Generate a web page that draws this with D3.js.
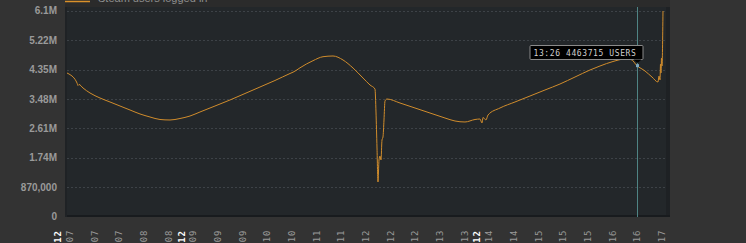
<!DOCTYPE html>
<html>
<head>
<meta charset="utf-8">
<script src="https://cdn.jsdelivr.net/npm/d3@7"></script>
<style>
  html, body { margin: 0; padding: 0; background: #333333; overflow: hidden; }
  svg { display: block; }
</style>
</head>
<body>
<script>
// x positions are in "tick steps" (one step = distance between two hour labels)
const times = [-0.122, -0.041, 0.284, 0.324, 0.365, 0.527, 0.811, 1.216, 1.622, 2.027, 2.433, 2.838,
  3.243, 3.649, 4.054, 4.459, 4.865, 5.270, 5.878, 6.486, 7.094, 7.702, 8.310, 8.919, 9.040, 9.162,
  9.324, 9.851, 10.257, 10.662, 11.068, 11.473, 11.878, 12.162, 12.364, 12.405, 12.446, 12.486, 12.527,
  12.567, 12.608, 12.648, 12.689, 12.729, 12.770, 12.851, 13.378, 13.986, 14.594, 15.202, 15.608,
  16.013, 16.419, 16.621, 16.702, 16.743, 16.864, 16.946, 17.432, 18.040, 18.648, 19.256, 19.864,
  20.473, 21.081, 21.486, 22.013, 22.500, 22.743, 22.986, 23.311, 23.594, 23.838, 23.878, 23.919,
  23.939, 23.959, 23.980, 24.000, 24.040];
const users = [4247000, 4217000, 3951000, 3877000, 3907000, 3803000, 3655000, 3507000, 3389000, 3270000,
  3152000, 3034000, 2945000, 2871000, 2856000, 2900000, 2974000, 3093000, 3270000, 3448000, 3640000,
  3832000, 4025000, 4232000, 4270000, 4320000, 4400000, 4611000, 4729000, 4750000, 4632000, 4395000,
  4099000, 3892000, 3773000, 3093000, 2027000, 1021000, 1672000, 1790000, 1672000, 2264000, 2353000,
  2856000, 3418000, 3477000, 3359000, 3211000, 3063000, 2915000, 2826000, 2797000, 2871000, 2885000,
  2767000, 2930000, 2856000, 3004000, 3211000, 3389000, 3566000, 3744000, 3921000, 4128000, 4336000,
  4454000, 4587000, 4661000, 4646000, 4463715, 4306000, 4128000, 3980000, 4158000, 4040000, 4513000,
  4247000, 4691000, 4454000, 6082000];

const yTicks = [0, 870000, 1740000, 2610000, 3480000, 4350000, 5220000, 6090000];
const yTickLabels = ["0", "870,000", "1.74M", "2.61M", "3.48M", "4.35M", "5.22M", "6.1M"];

const xTicks = d3.range(25);
const xTickLabels = ["07", "07", "07", "08", "08", "09", "09", "09", "10", "10", "11", "11", "12",
  "12", "12", "13", "13", "14", "14", "15", "15", "15", "16", "16", "17"];
const dayTicks = [-0.49, 4.54, 16.5];
const dayTickLabels = ["12", "12", "12"];

const hoverIndex = 69;
const hoverLabel = "13:26";
const seriesName = "Steam users logged in";

const W = 746, H = 243;
const pLeft = 65, pRight = 670, pTop = 7, pBottom = 217;

const svg = d3.select("body").append("svg").attr("width", W).attr("height", H);

const x = d3.scaleLinear().domain([-0.2027, 24.324]).range([pLeft, pRight]);
const y = d3.scaleLinear().domain([0, 6200000]).range([216.5, pTop]);

// legend strip (mostly scrolled off the top)
svg.append("rect").attr("x", pLeft).attr("y", 0).attr("width", pRight - pLeft).attr("height", pTop)
  .attr("fill", "#2b2b2b");
svg.append("line").attr("x1", pLeft).attr("x2", 90).attr("y1", 1.5).attr("y2", 1.5)
  .attr("stroke", "#d9902a").attr("stroke-width", 1.5);
svg.append("text").attr("x", 98).attr("y", 2).attr("fill", "#8f8f8f")
  .style("font", "11px 'Liberation Sans', Arial, sans-serif").text(seriesName);

// plot background + shading
svg.append("rect").attr("x", pLeft).attr("y", pTop).attr("width", pRight - pLeft).attr("height", pBottom - pTop)
  .attr("fill", "#23272a");
svg.append("rect").attr("x", pRight - 4).attr("y", pTop).attr("width", 4).attr("height", pBottom - pTop)
  .attr("fill", "#1e2124");
svg.append("rect").attr("x", pLeft).attr("y", pBottom - 2).attr("width", pRight - pLeft).attr("height", 2)
  .attr("fill", "#181b1e");
svg.append("rect").attr("x", pLeft).attr("y", pTop).attr("width", 2).attr("height", pBottom - pTop)
  .attr("fill", "#1f2225");

// gridlines
svg.append("g").selectAll("line").data(yTicks.slice(1)).join("line")
  .attr("x1", pLeft + 2).attr("x2", pRight - 4)
  .attr("y1", d => Math.round(y(d)) + 0.5).attr("y2", d => Math.round(y(d)) + 0.5)
  .attr("stroke", "#3d4247").attr("stroke-dasharray", "2,2");

// y axis labels
const yAxis = d3.axisLeft(y).tickValues(yTicks).tickSize(0).tickPadding(0)
  .tickFormat((d, i) => yTickLabels[i]);
const gy = svg.append("g").attr("transform", "translate(57,0)").call(yAxis);
gy.select(".domain").remove();
gy.selectAll("text").attr("fill", "#9a9a9a")
  .style("font", "bold 10px 'Liberation Sans', Arial, sans-serif");

// x axis labels (rotated)
const xl = svg.append("g");
xl.selectAll("text.h").data(xTicks).join("text").attr("class", "h")
  .attr("transform", d => `translate(${x(d) + 3},229.5) rotate(-90)`)
  .attr("text-anchor", "end").attr("fill", "#9a9a9a")
  .style("font", "9px 'DejaVu Sans Mono', monospace").style("letter-spacing", "1px")
  .text((d, i) => xTickLabels[i]);
xl.selectAll("text.d").data(dayTicks).join("text").attr("class", "d")
  .attr("transform", d => `translate(${x(d) + 3},230) rotate(-90)`)
  .attr("text-anchor", "end").attr("fill", "#ffffff")
  .style("font", "bold 9px 'DejaVu Sans Mono', monospace").style("letter-spacing", "1px")
  .text((d, i) => dayTickLabels[i]);

// series line
svg.append("clipPath").attr("id", "clip").append("rect")
  .attr("x", pLeft).attr("y", pTop).attr("width", pRight - pLeft).attr("height", pBottom - pTop);
const line = d3.line().x(d => x(d[0])).y(d => y(d[1])).curve(d3.curveMonotoneX);
svg.append("path").datum(times.map((t, i) => [t, users[i]]))
  .attr("clip-path", "url(#clip)")
  .attr("fill", "none").attr("stroke", "#d08c2c").attr("stroke-width", 1)
  .attr("d", line);

// hover marker + tooltip
const hx = Math.round(x(times[hoverIndex])) + 0.5;
const hy = y(users[hoverIndex]);
svg.append("line").attr("x1", hx).attr("x2", hx).attr("y1", pTop).attr("y2", pBottom)
  .attr("stroke", "#4f8484").attr("stroke-width", 1);
svg.append("rect").attr("x", hx - 1.5).attr("y", hy - 1.5).attr("width", 3).attr("height", 3)
  .attr("fill", "#7fa8c0");

const tip = svg.append("g").attr("transform", `translate(${hx - 108},45)`);
tip.append("rect").attr("x", 0.5).attr("y", 0.5).attr("width", 113).attr("height", 14)
  .attr("fill", "#000").attr("stroke", "#8a8a8a").attr("rx", 1);
tip.append("path").attr("d", "M104,14.5 L108,18 L112,14.5Z").attr("fill", "#000");
tip.append("text").attr("x", 4).attr("y", 10.5).attr("fill", "#cfcfcf")
  .style("font", "8px 'DejaVu Sans Mono', monospace").style("letter-spacing", "0.6px")
  .text(`${hoverLabel} ${users[hoverIndex]} USERS`);
</script>
</body>
</html>
